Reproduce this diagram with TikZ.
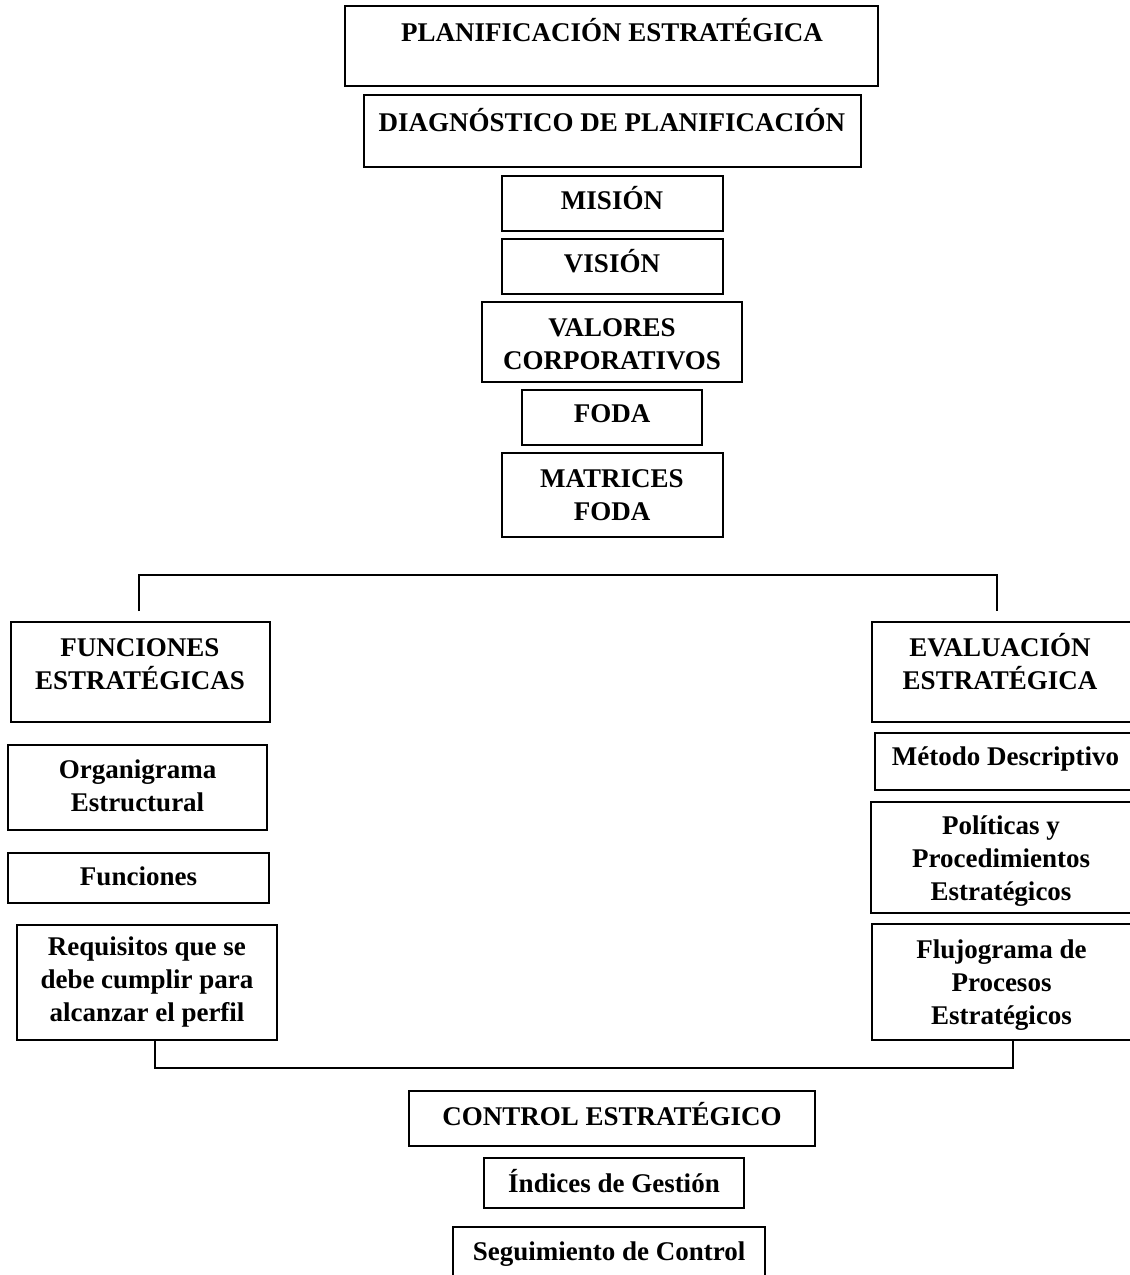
\documentclass[tikz,border=0pt]{standalone}
\usepackage{fontspec}
\setmainfont{Liberation Serif}
\begin{document}
\begin{tikzpicture}[x=1pt,y=-1pt,
  frame/.style={draw, line width=1.2pt, inner sep=0pt, rectangle},
  lbl/.style={font=\bfseries\fontsize{27}{33}\selectfont, align=center, anchor=base, inner sep=0pt},
  link/.style={line width=1.2pt}]
\useasboundingbox[fill=white] (0,0) rectangle (1130,1275);

% central column
\node[frame, minimum width=533, minimum height=80] (plan) at (611.5,46) {};
\node[frame, minimum width=497, minimum height=72] (diag) at (612.5,131) {};
\node[frame, minimum width=221, minimum height=55] (mision) at (612.5,203.5) {};
\node[frame, minimum width=221, minimum height=55] (vision) at (612.5,266.5) {};
\node[frame, minimum width=260, minimum height=80] (valores) at (612,342) {};
\node[frame, minimum width=180, minimum height=55] (foda) at (612,417.5) {};
\node[frame, minimum width=221, minimum height=84] (matrices) at (612.5,495) {};

% multi-line labels are placed by the baseline of their last line
\node[lbl] (plan-t) at (612,41) {PLANIFICACIÓN ESTRATÉGICA};
\node[lbl] (diag-t) at (612,131) {DIAGNÓSTICO DE PLANIFICACIÓN};
\node[lbl] (mision-t) at (612,209) {MISIÓN};
\node[lbl] (vision-t) at (612,272) {VISIÓN};
\node[lbl] (valores-t) at (612,369) {VALORES\\CORPORATIVOS};
\node[lbl] (foda-t) at (612,422) {FODA};
\node[lbl] (matrices-t) at (612,520) {MATRICES\\FODA};

% left column
\node[frame, minimum width=259, minimum height=100] (funciones) at (140.5,672) {};
\node[frame, minimum width=259, minimum height=85] (organigrama) at (137.5,787.5) {};
\node[frame, minimum width=261, minimum height=50] (funcs) at (138.5,878) {};
\node[frame, minimum width=260, minimum height=115] (requisitos) at (147,982.5) {};

\node[lbl] (funciones-t) at (140,689) {FUNCIONES\\ESTRATÉGICAS};
\node[lbl] (organigrama-t) at (137.5,811) {Organigrama\\Estructural};
\node[lbl] (funcs-t) at (138.5,885) {Funciones};
\node[lbl] (requisitos-t) at (147,1021) {Requisitos que se\\debe cumplir para\\alcanzar el perfil};

% right column
\node[frame, minimum width=262, minimum height=100] (evaluacion) at (1003,672) {};
\node[frame, minimum width=261, minimum height=57] (metodo) at (1005.5,761.5) {};
\node[frame, minimum width=263, minimum height=111] (politicas) at (1002.5,857.5) {};
\node[frame, minimum width=262, minimum height=116] (flujo) at (1003,982) {};

\node[lbl] (evaluacion-t) at (1000,689) {EVALUACIÓN\\ESTRATÉGICA};
\node[lbl] (metodo-t) at (1005.5,765) {Método Descriptivo};
\node[lbl] (politicas-t) at (1001,900) {Políticas y\\Procedimientos\\Estratégicos};
\node[lbl] (flujo-t) at (1001.5,1024) {Flujograma de\\Procesos\\Estratégicos};

% bottom column
\node[frame, minimum width=406, minimum height=55] (control) at (612,1118.5) {};
\node[frame, minimum width=260, minimum height=50] (indices) at (614,1183) {};
\node[frame, minimum width=312, minimum height=58] (seguim) at (609,1256) {};

\node[lbl] (control-t) at (612,1125) {CONTROL ESTRATÉGICO};
\node[lbl] (indices-t) at (614,1192) {Índices de Gestión};
\node[lbl] (seguim-t) at (609,1260) {Seguimiento de Control};

% upper bracket
\coordinate (tl) at (139,575);
\coordinate (tr) at (997,575);
\coordinate (tlb) at (139,611);
\coordinate (trb) at (997,611);
\draw[link] (tlb) -- (tl) -- (tr) -- (trb);

% lower bracket
\coordinate (bl) at (155,1068);
\coordinate (br) at (1013,1068);
\draw[link] (bl |- requisitos.south) -- (bl) -- (br) -- (br |- flujo.south);
\end{tikzpicture}
\end{document}
